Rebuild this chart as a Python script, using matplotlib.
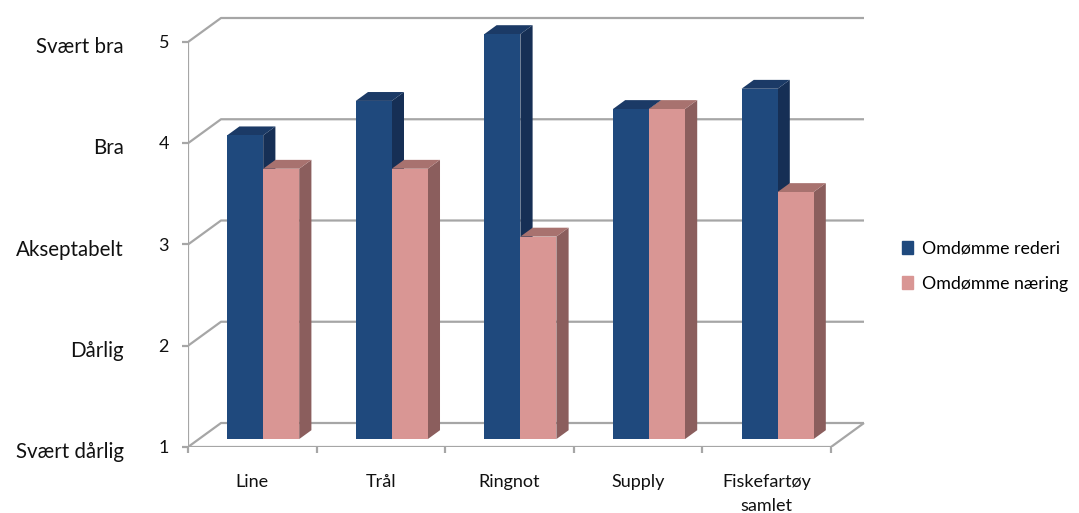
import matplotlib
matplotlib.use("Agg")
import matplotlib.pyplot as plt
from matplotlib.patches import Polygon, Patch
from matplotlib import transforms

plt.rcParams['font.family'] = ['Lato', 'DejaVu Sans']

categories = ["Line", "Trål", "Ringnot", "Supply", "Fiskefartøy\nsamlet"]
rederi = [4.0, 4.34, 5.0, 4.26, 4.46]
naering = [3.67, 3.67, 3.0, 4.26, 3.44]
series_names = ["Omdømme rederi", "Omdømme næring"]
ticks = [1, 2, 3, 4, 5]
tick_names = ["Svært dårlig", "Dårlig", "Akseptabelt", "Bra", "Svært bra"]

# face colours: front, top, side
blue = ("#1f497d", "#1b3a66", "#162f55")
pink = ("#d99694", "#a8726f", "#8b5e5d")

# oblique depth of the walls in data units (x per category, y per score)
DX = 33 / 128.6
DY = 24 / 101.25
F0, F1 = 0.33, 0.70      # bar front/back as fraction of total depth
W = 0.28                 # bar width

fig = plt.figure(figsize=(10.79, 5.13), dpi=100)
x_px, y_px = 188, 447
ax = fig.add_axes([x_px / 1079, (513 - y_px) / 513, 5.4 * 128.6 / 1079, 4.4 * 101.25 / 513])
ax.set_xlim(-0.5, 4.9)
ax.set_ylim(1, 5.4)
ax.axis('off')

grid = dict(color="#a6a6a6", lw=1.6, solid_capstyle='butt', zorder=1)
xl, xr = -0.5, len(categories) - 0.5
for t in ticks:
    ax.plot([xl, xl + DX, xr + DX], [t, t + DY, t + DY], **grid)
ax.plot([xl, xl], [1, 5], **grid)
ax.plot([xl, xr, xr + DX], [1, 1, 1 + DY], **grid)

# tick marks
for t in ticks:
    ax.plot([xl - 0.045, xl], [t, t], clip_on=False, **grid)
for i in range(len(categories) + 1):
    ax.plot([xl + i, xl + i], [1, 1 - 0.06], clip_on=False, **grid)


def bar3d(x0, v, cols, z):
    sx0, sy0 = F0 * DX, F0 * DY
    sx1, sy1 = F1 * DX, F1 * DY
    ax.add_patch(Polygon([(x0 + W + sx0, 1 + sy0), (x0 + W + sx0, v + sy0),
                          (x0 + W + sx1, v + sy1), (x0 + W + sx1, 1 + sy1)],
                         closed=True, fc=cols[2], ec='none', zorder=z))
    ax.add_patch(Polygon([(x0 + sx0, v + sy0), (x0 + W + sx0, v + sy0),
                          (x0 + W + sx1, v + sy1), (x0 + sx1, v + sy1)],
                         closed=True, fc=cols[1], ec='none', zorder=z))
    ax.bar(x0 + sx0, v - 1, width=W, bottom=1 + sy0, align='edge',
           color=cols[0], zorder=z)


for i in range(len(categories)):
    bar3d(i - W, rederi[i], blue, 3 + 2 * i)
    bar3d(i, naering[i], pink, 4 + 2 * i)

# axis labels
for i, c in enumerate(categories):
    ax.text(i, 1 - 0.27, c, ha='center', va='top', fontsize=13,
            linespacing=1.6, color="#111111")

trans = transforms.blended_transform_factory(fig.transFigure, ax.transData)
for t, name in zip(ticks, tick_names):
    ax.text(169 / 1079, t - 0.01, str(t), transform=trans, ha='right', va='center',
            fontsize=13, color="#111111")
    ax.text(124 / 1079, t - 0.05, name, transform=trans, ha='right', va='center',
            fontsize=14.8, color="#111111")

handles = [Patch(color=blue[0]), Patch(color=pink[0])]
fig.legend(handles, series_names, loc='center left',
           bbox_to_anchor=(886 / 1079, 1 - 266 / 513), frameon=False,
           fontsize=12.8, handlelength=0.6, handleheight=0.75,
           handletextpad=0.5, labelspacing=1.1)

fig.savefig("out.png", dpi=100)
